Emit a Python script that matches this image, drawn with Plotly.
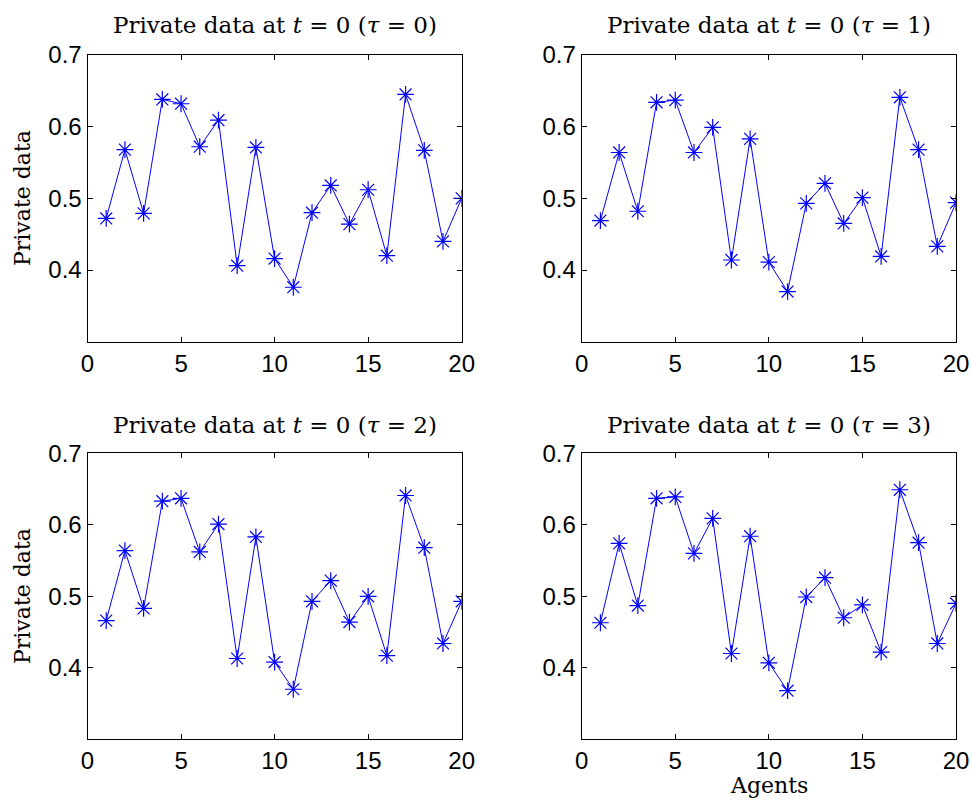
import plotly.graph_objects as go

agents = list(range(1, 21))
tau0 = [0.472, 0.568, 0.479, 0.638, 0.632, 0.572, 0.609, 0.406, 0.571, 0.416,
        0.376, 0.480, 0.518, 0.464, 0.512, 0.420, 0.645, 0.567, 0.440, 0.500]
tau1 = [0.469, 0.564, 0.482, 0.634, 0.637, 0.564, 0.599, 0.414, 0.583, 0.411,
        0.370, 0.493, 0.521, 0.465, 0.501, 0.419, 0.641, 0.568, 0.433, 0.494]
tau2 = [0.466, 0.564, 0.483, 0.633, 0.637, 0.562, 0.601, 0.413, 0.583, 0.408,
        0.370, 0.493, 0.522, 0.464, 0.500, 0.417, 0.641, 0.568, 0.434, 0.493]
tau3 = [0.463, 0.574, 0.487, 0.637, 0.639, 0.560, 0.609, 0.420, 0.584, 0.407,
        0.368, 0.499, 0.526, 0.470, 0.488, 0.422, 0.649, 0.575, 0.434, 0.490]
series = [tau0, tau1, tau2, tau3]
titles = ["Private data at <i>t</i> = 0 (<i>τ</i> = 0)",
          "Private data at <i>t</i> = 0 (<i>τ</i> = 1)",
          "Private data at <i>t</i> = 0 (<i>τ</i> = 2)",
          "Private data at <i>t</i> = 0 (<i>τ</i> = 3)"]
xticks = [0, 5, 10, 15, 20]
yticks = [0.4, 0.5, 0.6, 0.7]

W, H = 972, 807


def px(x):
    return x / W


def py(y):
    return (H - y) / H


xdoms = [[px(87.5), px(461.7)], [px(581.7), px(956)]]
ydoms = [[py(341.7), py(55)], [py(739.3), py(453.3)]]
title_y = [25, 425]
ylab_y = [198, 596]

fig = go.Figure()
serif = "DejaVu Serif"
sans = "Liberation Sans, Arial"
annotations = []
for i, vals in enumerate(series):
    r, c = divmod(i, 2)
    n = "" if i == 0 else str(i + 1)
    fig.add_trace(go.Scatter(
        x=agents, y=vals, mode="lines+markers",
        line=dict(color="#0000ff", width=1),
        marker=dict(symbol="asterisk-open", size=14,
                    line=dict(color="#0000ff", width=1.2), color="#0000ff"),
        xaxis="x" + n, yaxis="y" + n, showlegend=False))
    axcommon = dict(showline=True, linecolor="black", linewidth=1, mirror="ticks",
                    ticks="inside", ticklen=5, tickcolor="black", showgrid=False,
                    zeroline=False, automargin=False,
                    tickfont=dict(family=sans, size=24, color="black"))
    fig.layout["xaxis" + n] = dict(domain=xdoms[c], range=[0, 20], tickvals=xticks,
                                   anchor="y" + n, **axcommon)
    fig.layout["yaxis" + n] = dict(domain=ydoms[r], range=[0.3, 0.7], tickvals=yticks,
                                   tickformat=".1f", anchor="x" + n, **axcommon)
    xc = (xdoms[c][0] + xdoms[c][1]) / 2
    annotations.append(dict(text=titles[i], x=xc, y=py(title_y[r]), xref="paper",
                            yref="paper", showarrow=False, xanchor="center",
                            yanchor="middle", font=dict(family=serif, size=23, color="black")))
    if c == 0:
        annotations.append(dict(text="Private data", x=px(22), y=py(ylab_y[r]),
                                xref="paper", yref="paper", showarrow=False, textangle=-90,
                                xanchor="center", yanchor="middle",
                                font=dict(family=serif, size=22, color="black")))
annotations.append(dict(text="Agents", x=(xdoms[1][0] + xdoms[1][1]) / 2, y=py(785),
                        xref="paper", yref="paper", showarrow=False, xanchor="center",
                        yanchor="middle", font=dict(family=serif, size=22, color="black")))

fig.update_layout(width=W, height=H, margin=dict(l=0, r=0, t=0, b=0),
                  paper_bgcolor="white", plot_bgcolor="white", annotations=annotations)
fig.write_html("out.html", config={"displayModeBar": False},
               post_script="document.body.style.margin='0';"
                           "document.body.style.overflow='hidden';")
